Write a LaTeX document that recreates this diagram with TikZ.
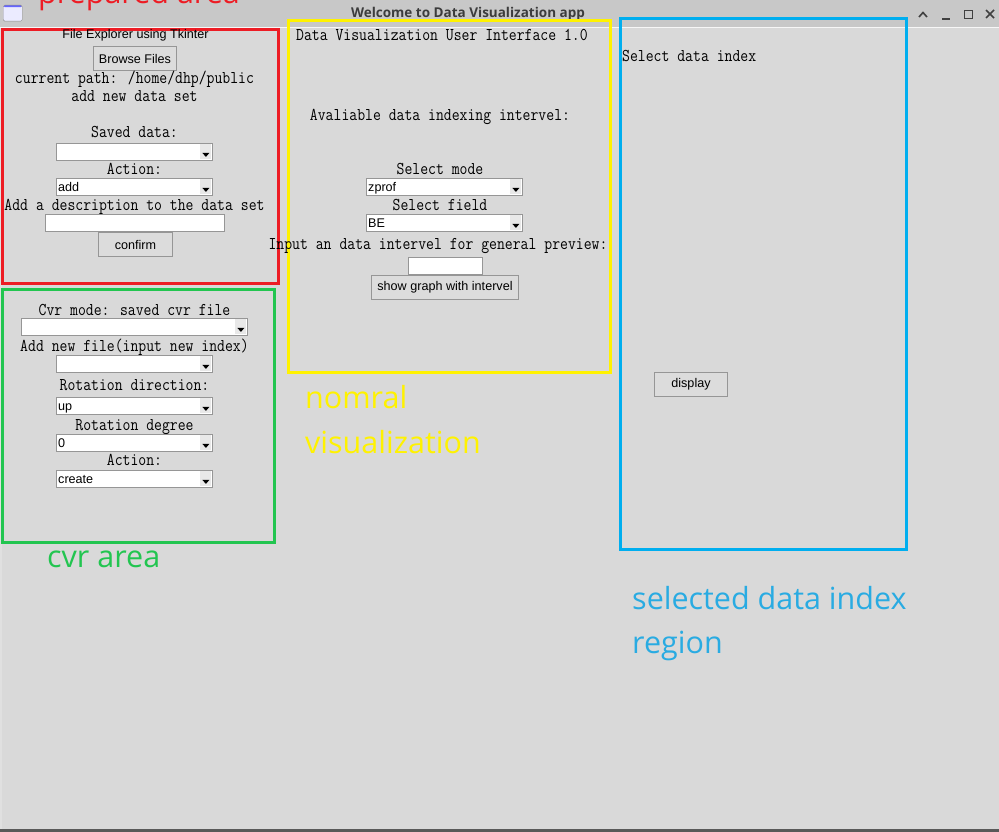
\documentclass[tikz,border=0pt]{standalone}
\usepackage{fontspec}
\newfontfamily\annotfont{Open Sans}
\newfontfamily\tksans{Liberation Sans}
\newcommand\tkl[1]{\scalebox{0.85}[1]{\ttfamily\fontsize{18}{20}\selectfont #1}}
\definecolor{winbg}{RGB}{217,217,217}
\definecolor{titlebg}{RGB}{200,200,200}
\definecolor{titletxt}{RGB}{60,60,60}
\definecolor{annred}{RGB}{237,28,36}
\definecolor{annyellow}{RGB}{255,242,0}
\definecolor{boxyellow}{RGB}{255,242,0}
\definecolor{anngreen}{RGB}{34,197,80}
\definecolor{annblue}{RGB}{0,174,239}
\definecolor{annbluetxt}{RGB}{41,171,226}
\definecolor{cbborder}{RGB}{150,150,150}
\definecolor{btnfill}{RGB}{220,220,220}
\definecolor{arrbg}{RGB}{232,232,232}
\tikzset{
  region/.style={line width=3pt},
  tklabel/.style={inner sep=0pt, anchor=base},
  tktext/.style={font=\tksans\fontsize{12.6}{14}\selectfont, inner sep=0pt},
  annot/.style={font=\annotfont\fontsize{30.5}{36}\selectfont, inner sep=0pt, anchor=base west},
  combo/.style={draw=cbborder, fill=white, line width=0.8pt, inner sep=0pt,
    minimum height=17pt, anchor=north west,
    path picture={
      \fill[arrbg] ([xshift=-12pt,yshift=-1pt]path picture bounding box.north east)
        rectangle ([xshift=-1pt,yshift=1pt]path picture bounding box.south east);
      \fill[black] ([xshift=-10pt,yshift=-1pt]path picture bounding box.east)
        -- ([xshift=-3pt,yshift=-1pt]path picture bounding box.east)
        -- ([xshift=-6.5pt,yshift=-5pt]path picture bounding box.east) -- cycle;
    }},
  combotext/.style={tktext, anchor=base west, xshift=2pt, yshift=-4.5pt},
  entry/.style={draw=cbborder, fill=white, line width=0.8pt, inner sep=0pt,
    minimum height=17pt, anchor=north west},
  button/.style={draw=cbborder, fill=btnfill, line width=1pt, inner sep=0pt,
    minimum height=24pt, anchor=north west, tktext}
}
\begin{document}
\begin{tikzpicture}[x=1pt,y=-1pt]
\useasboundingbox (0,0) rectangle (999,832);
% window
\fill[winbg] (0,0) rectangle (999,832);
\fill[titlebg] (0,0) rectangle (999,27);
\fill[white!85!titlebg] (0,27) rectangle (999,28);
\fill[black!65] (0,829) rectangle (999,832);
\fill[black!12] (0,28) rectangle (1.5,829);
% title bar items
\node[font=\annotfont\bfseries\fontsize{13.5}{15}\selectfont, text=titletxt, inner sep=0pt, anchor=base] (title) at (468,17.5) {Welcome to Data Visualization app};
\node[draw=black!45, fill=white!92!blue, rounded corners=1.5pt, minimum width=19pt, minimum height=16pt, inner sep=0pt, anchor=north west,
  path picture={\fill[blue!60!white] (path picture bounding box.north west) rectangle ([yshift=-2pt]path picture bounding box.north east);}] (winicon) at (3,5) {};
\draw[line width=1.6pt, black!75] (919,17) -- (923,12.5) -- (927,17);
\draw[line width=1.6pt, black!75] (942,19) -- (950,19);
\draw[line width=1.4pt, black!75] (964.5,10.5) rectangle (972.5,18.5);
\draw[line width=1.6pt, black!75] (986,10) -- (994,18) (994,10) -- (986,18);
% region frames
\draw[region, annred] (2,30) rectangle (278,283);
\draw[region, anngreen] (2,289) rectangle (274,542);
\draw[region, boxyellow] (288,21) rectangle (610,372);
\draw[region, annblue] (620,19) rectangle (906,549);
% annotations
\node[annot, text=annred] (annPrep) at (38,4) {prepared area};
\node[annot, text=anngreen] (annCvr) at (47,567) {cvr area};
\node[annot, text=annyellow] (annNorm1) at (305,408) {nomral};
\node[annot, text=annyellow] (annNorm2) at (305,453) {visualization};
\node[annot, text=annbluetxt] (annSel1) at (632,609) {selected data index};
\node[annot, text=annbluetxt] (annSel2) at (632,653) {region};
% prepared area
\node[tktext, anchor=base] (fileExp) at (135.5,39) {File Explorer using Tkinter};
\node[button, minimum width=83pt] (btnBrowse) at (93,46) {Browse Files};
\node[tklabel] (lPath) at (134.5,84) {\tkl{current path: /home/dhp/public}};
\node[tklabel] (lAddNew) at (134.5,102) {\tkl{add new data set}};
\node[tklabel] (lSaved) at (134.5,138) {\tkl{Saved data:}};
\node[combo, minimum width=156pt] (cbSaved) at (56,143) {};
\node[tklabel] (lAction1) at (134.5,175) {\tkl{Action:}};
\node[combo, minimum width=156pt, label={[combotext]west:add}] (cbAction1) at (56,178) {};
\node[tklabel] (lDesc) at (134.5,211) {\tkl{Add a description to the data set}};
\node[entry, minimum width=179pt] (enDesc) at (45,214) {};
\node[button, minimum width=74pt] (btnConfirm) at (98,232) {confirm};
% cvr area
\node[tklabel] (lCvr) at (134.5,315) {\tkl{Cvr mode: saved cvr file}};
\node[combo, minimum width=226pt] (cbCvr) at (21,318) {};
\node[tklabel] (lNewFile) at (134.5,351) {\tkl{Add new file(input new index)}};
\node[combo, minimum width=156pt] (cbNewFile) at (56,355) {};
\node[tklabel] (lRotDir) at (134.5,390) {\tkl{Rotation direction:}};
\node[combo, minimum width=156pt, label={[combotext]west:up}] (cbRotDir) at (56,397) {};
\node[tklabel] (lRotDeg) at (134.5,430) {\tkl{Rotation degree}};
\node[combo, minimum width=156pt, label={[combotext]west:0}] (cbRotDeg) at (56,434) {};
\node[tklabel] (lAction2) at (134.5,465) {\tkl{Action:}};
\node[combo, minimum width=156pt, label={[combotext]west:create}] (cbAction2) at (56,470) {};
% normal visualization
\node[tklabel, anchor=base west] (lDVUI) at (296,41) {\tkl{Data Visualization User Interface 1.0}};
\node[tklabel] (lAvail) at (440,121) {\tkl{Avaliable data indexing intervel:}};
\node[tklabel] (lMode) at (440,175) {\tkl{Select mode}};
\node[combo, minimum width=156pt, label={[combotext]west:zprof}] (cbMode) at (366,178) {};
\node[tklabel] (lField) at (440,210) {\tkl{Select field}};
\node[combo, minimum width=156pt, label={[combotext]west:BE}] (cbField) at (366,214) {};
\node[tklabel] (lInput) at (438,249) {\tkl{Input an data intervel for general preview:}};
\node[entry, minimum width=74pt] (enInterval) at (408,257) {};
\node[button, minimum width=147pt] (btnShow) at (371,275) {show graph with intervel};
% selected data index region
\node[tklabel, anchor=base west] (lSelIdx) at (622,62) {\tkl{Select data index}};
\node[button, minimum width=73pt] (btnDisplay) at (654,372) {display};
\end{tikzpicture}
\end{document}
